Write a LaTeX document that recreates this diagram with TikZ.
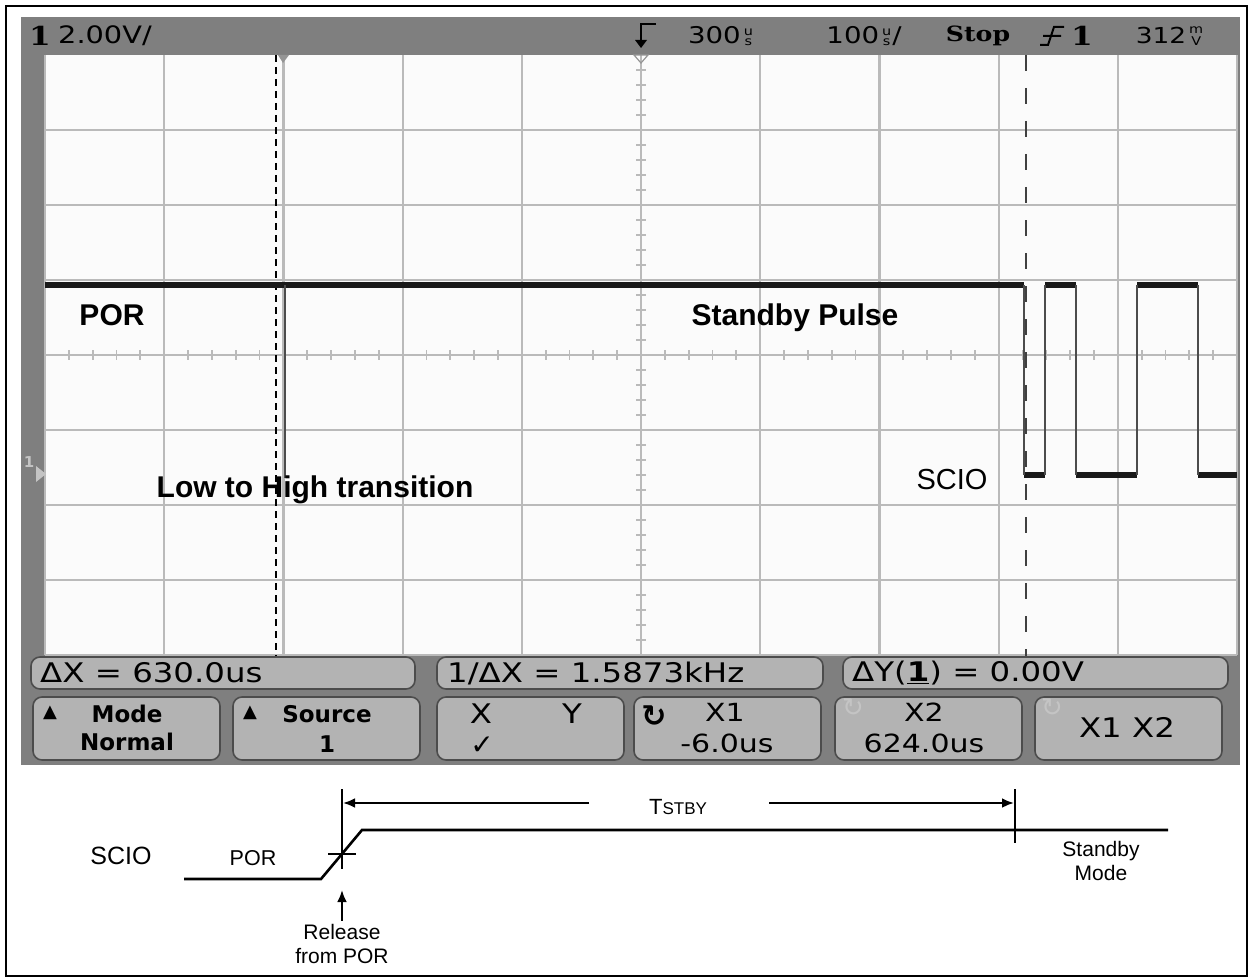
\documentclass[tikz,border=0pt]{standalone}
\usepackage{fontspec}
\setmainfont{Liberation Sans}
\newfontfamily\scopefont[FakeStretch=1.2]{DejaVu Sans}
\newfontfamily\keyfont{DejaVu Sans}
\newfontfamily\scopeserif[FakeStretch=1.2]{DejaVu Serif}
\usetikzlibrary{arrows.meta}
\definecolor{scopegray}{HTML}{7F7F7F}
\definecolor{gridgray}{HTML}{BABABA}
\definecolor{keygray}{HTML}{B3B3B3}
\definecolor{screen}{HTML}{FBFBFB}
\definecolor{ghost}{HTML}{C4C4C4}
\newcommand{\fs}[1]{\fontsize{#1}{\fpeval{1.1*#1}}\selectfont}
\newcommand{\stk}[2]{\kern3pt\raisebox{-2pt}{\fs{12}\shortstack{#1\\#2}}\kern1pt}

\begin{document}
\begin{tikzpicture}[x=1pt,y=-1pt,>=Latex,
  gridline/.style={gridgray,line width=2.2},
  trace/.style={black!90,line width=5.5},
  edge/.style={black!70,line width=1.8},
  key/.style={draw=black!70,fill=keygray,line width=1.6,rounded corners=9},
  scopetxt/.style={font=\scopefont\fs{#1},inner sep=0},
  keytxt/.style={font=\keyfont\bfseries\fs{23},inner sep=0},
  note/.style={font=\bfseries\fs{30},inner sep=0},
  wave/.style={line width=2.6},
  arr/.style={line width=2.6,-{Latex[length=12,width=10]}},
  lbl/.style={font=\fs{#1},inner sep=0,align=center}]
  \useasboundingbox (0,0) rectangle (1251,979);
  \draw[line width=2.5] (6,6) rectangle (1247,976);

  % scope screen
  \fill[scopegray] (21,17) rectangle (1240,765);
  \fill[screen] (45,55) rectangle (1237,655);
  \foreach \i in {0,...,10}
    \draw[gridline] ({45+119.2*\i},55) -- ({45+119.2*\i},655);
  \foreach \j in {1,...,8}
    \draw[gridline] (45,{55+75*\j}) -- (1237,{55+75*\j});
  \foreach \k in {1,...,49}
    \draw[gridgray,line width=1.8] ({45+23.84*\k},350) -- ++(0,10);
  \foreach \k in {1,...,39}
    \draw[gridgray,line width=1.8] (636,{55+15*\k}) -- ++(10,0);
  \fill[gridgray!80!black] (278,55) -- (289,55) -- (283,63) -- cycle;
  \draw[gridgray!80!black,line width=1.2] (634,55) -- (648,55) -- (641,63) -- cycle;
  \fill[ghost] (36,466) -- (46,474) -- (36,482) -- cycle;
  \node[text=ghost,font=\keyfont\bfseries\fs{15},inner sep=0] (gnd) at (29,462) {1};

  % cursors
  \draw[black,line width=1.6,dash pattern=on 7 off 5] (276,55) -- (276,657);
  \draw[black!75,line width=1.6,dash pattern=on 16 off 17] (1026,55) -- (1026,657);

  % SCIO trace
  \draw[trace] (45,285) -- (1024,285) (1045,285) -- (1076,285) (1137,285) -- (1198,285);
  \draw[trace] (1024,475) -- (1045,475) (1076,475) -- (1137,475) (1198,475) -- (1237,475);
  \draw[edge] (1024,285) -- (1024,475) (1045,475) -- (1045,285) (1076,285) -- (1076,475)
    (1137,475) -- (1137,285) (1198,285) -- (1198,475);
  \draw[edge] (285,285) -- (285,478);

  % top status line
  \draw[line width=2] (656,24) -- (641,24) -- (641,42);
  \fill (635,40) -- (647,40) -- (641,48) -- cycle;
  \draw[line width=2] (1040,45) -- (1048,45) -- (1054,27) -- (1064,27) (1043,36) -- (1061,36);
  \node[font=\scopeserif\bfseries\fs{26},inner sep=0] (chan) at (40,36) {1};
  \node[scopetxt=24,anchor=west] (vdiv) at (58,36) {2.00V/};
  \node[scopetxt=23] (tpos) at (721,36) {300\stk{u}{s}};
  \node[scopetxt=23] (tdiv) at (864,36) {100\stk{u}{s}/};
  \node[font=\scopeserif\bfseries\fs{21},inner sep=0] (run) at (978,36) {Stop};
  \node[font=\scopeserif\bfseries\fs{26},inner sep=0] (trigsrc) at (1082,36) {1};
  \node[scopetxt=22] (tlev) at (1170,36) {312\stk{m}{V}};

  % readouts and softkeys
  \draw[key] (31,657) rectangle (415,689);
  \draw[key] (437,657) rectangle (823,689);
  \draw[key] (843,657) rectangle (1228,689);
  \node[scopetxt=27,anchor=west] (dx) at (40,673) {ΔX = 630.0us};
  \node[scopetxt=27,anchor=west] (invdx) at (447,673) {1/ΔX = 1.5873kHz};
  \node[scopetxt=27,anchor=west] (dy) at (852,673) {ΔY(\underline{\textbf{1}}) = 0.00V};
  \foreach \x in {33,233,437,634,835,1035}
    \draw[key] (\x,697) rectangle ++(187,63);
  \node[font=\keyfont\fs{18},inner sep=0] (up1) at (50,713) {▲};
  \node[keytxt] (mode) at (127,714) {Mode};
  \node[keytxt] (normal) at (127,742) {Normal};
  \node[font=\keyfont\fs{18},inner sep=0] (up2) at (250,713) {▲};
  \node[keytxt] (source) at (327,714) {Source};
  \node[keytxt] (srcval) at (327,744) {1};
  \node[scopetxt=27] (xsel) at (481,714) {X};
  \node[scopetxt=27] (ysel) at (572,714) {Y};
  \node[font=\keyfont\bfseries\fs{28},inner sep=0] (tick) at (482,746) {✓};
  \node[font=\keyfont\bfseries\fs{30},inner sep=0] (knob1) at (654,716) {↻};
  \node[scopetxt=25] (xone) at (725,712) {X1};
  \node[scopetxt=25] (xoneval) at (727,743) {-6.0us};
  \node[font=\keyfont\fs{26},inner sep=0,text=ghost] (knob2) at (853,708) {↻};
  \node[scopetxt=25] (xtwo) at (924,712) {X2};
  \node[scopetxt=25] (xtwoval) at (924,743) {624.0us};
  \node[font=\keyfont\fs{26},inner sep=0,text=ghost] (knob3) at (1052,708) {↻};
  \node[scopetxt=27] (both) at (1127,727) {X1 X2};

  % notes on the capture
  \node[note] (por) at (112,315) {POR};
  \node[note] (pulse) at (795,318) {Standby Pulse};
  \node[note] (l2h) at (315,490) {Low to High transition};
  \node[lbl=29] (sciotr) at (952,480) {SCIO};

  % timing sketch
  \coordinate (lowL) at (184,879);
  \coordinate (rampA) at (321,879);
  \coordinate (rampB) at (362,830);
  \coordinate (highR) at (1168,830);
  \draw[wave] (lowL) -- (rampA) -- (rampB) -- (highR);
  \coordinate (relTop) at (342,789);
  \coordinate (relBot) at (342,869);
  \draw[wave] (relTop) -- (relBot);
  \draw[wave] (328,854) -- (356,854);
  \coordinate (sbyTop) at (1015,789);
  \coordinate (sbyBot) at (1015,843);
  \draw[wave] (sbyTop) -- (sbyBot);
  \node[lbl=22] (tstby) at (678,807) {T\fs{17}STBY};
  \coordinate (tL) at (589,803);
  \coordinate (tR) at (769,803);
  \coordinate (tLtip) at (343,803);
  \coordinate (tRtip) at (1014,803);
  \draw[arr] (tL) -- (tLtip);
  \draw[arr] (tR) -- (tRtip);
  \node[lbl=25] (scio) at (121,856) {SCIO};
  \node[lbl=21.5] (porlbl) at (253,858) {POR};
  \node[lbl=21] (release) at (342,944) {Release\\from POR};
  \coordinate (relTip) at (342,890);
  \draw[arr] ([yshift=4pt]release.north) -- (relTip);
  \node[lbl=21] (standby) at (1101,861) {Standby\\Mode};
\end{tikzpicture}
\end{document}
